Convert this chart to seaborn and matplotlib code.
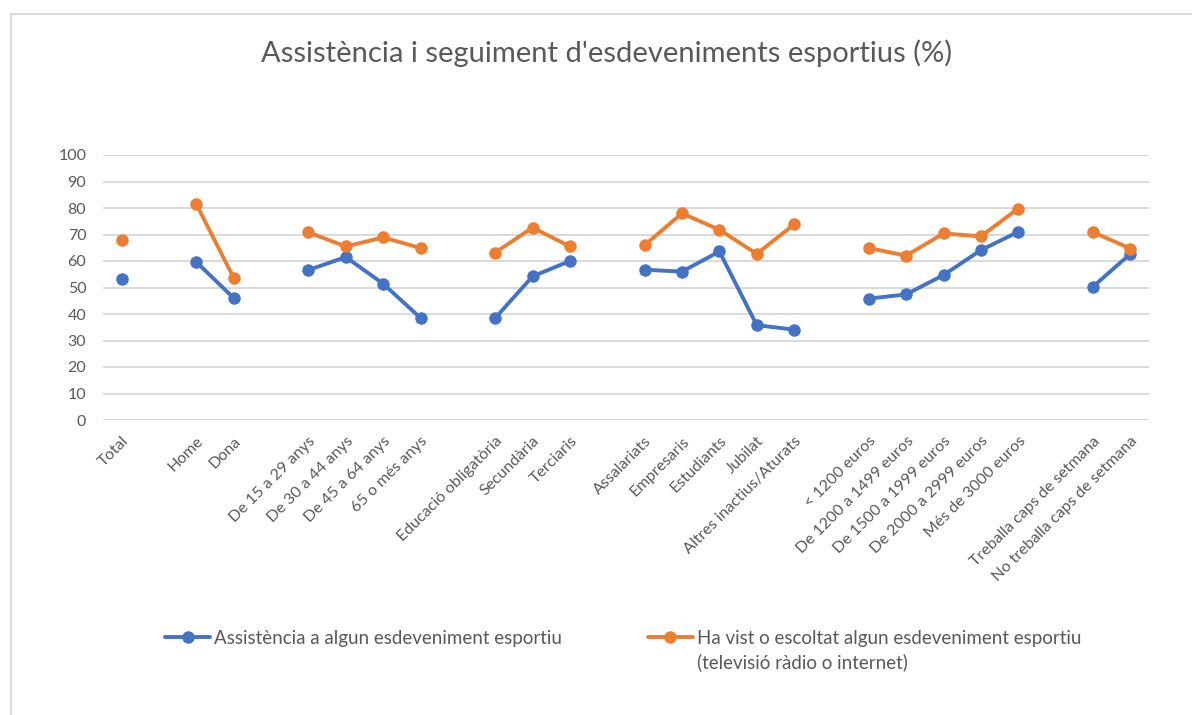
import numpy as np
import pandas as pd
import matplotlib
matplotlib.use("Agg")
import matplotlib.pyplot as plt
import seaborn as sns
from matplotlib.patches import Rectangle

# categories ("" = empty slot between groups)
categories = [
    "Total", "",
    "Home", "Dona", "",
    "De 15 a 29 anys", "De 30 a 44 anys", "De 45 a 64 anys", "65 o més anys", "",
    "Educació obligatòria", "Secundària", "Terciaris", "",
    "Assalariats", "Empresaris", "Estudiants", "Jubilat", "Altres inactius/Aturats", "",
    "< 1200 euros", "De 1200 a 1499 euros", "De 1500 a 1999 euros",
    "De 2000 a 2999 euros", "Més de 3000 euros", "",
    "Treballa caps de setmana", "No treballa caps de setmana",
]

assistencia = [
    53.2, None,
    59.6, 46.0, None,
    56.6, 61.5, 51.4, 38.5, None,
    38.5, 54.2, 60.0, None,
    56.7, 56.0, 63.6, 35.8, 34.1, None,
    45.8, 47.4, 54.7, 64.1, 71.0, None,
    50.3, 62.7,
]

ha_vist = [
    67.8, None,
    81.4, 53.6, None,
    70.8, 65.5, 68.9, 64.9, None,
    63.2, 72.6, 65.5, None,
    66.0, 78.0, 71.8, 62.7, 73.8, None,
    64.9, 62.0, 70.4, 69.3, 79.8, None,
    70.9, 64.7,
]

series_names = [
    "Assistència a algun esdeveniment esportiu",
    "Ha vist o escoltat algun esdeveniment esportiu",
]
series_extra = "(televisió ràdio o internet)"
colors = ["#4472C4", "#ED7D31"]
text_color = "#595959"

# long table, one line segment per group so gaps break the lines
grp_ids = np.cumsum([1 if c == "" else 0 for c in categories])
rows = []
for name, vals in zip(series_names, [assistencia, ha_vist]):
    for i, v in enumerate(vals):
        if v is not None:
            rows.append({"pos": i, "value": v, "series": name, "grp": grp_ids[i]})
df = pd.DataFrame(rows)

sns.set_theme(style="white")
plt.rcParams["font.family"] = ["Lato", "DejaVu Sans"]

W, H = 1192, 715
fig = plt.figure(figsize=(W / 100, H / 100), dpi=100)
ax = fig.add_axes([103 / W, 1 - 420 / H, (1149 - 103) / W, (420 - 155) / H])

sns.lineplot(data=df, x="pos", y="value", hue="series", units="grp",
             estimator=None, palette=colors, marker="o", markersize=9,
             markeredgewidth=0, linewidth=2.8, ax=ax, legend=False)

ax.set_xlim(-0.5, len(categories) - 0.5)
ax.set_ylim(0, 100)
ax.set_yticks(range(0, 101, 10))
ax.set_xticks(range(len(categories)))
ax.set_xticklabels(categories, rotation=45, ha="right", rotation_mode="anchor",
                   color=text_color, fontsize=11.5)
ax.tick_params(axis="y", labelsize=11.5, labelcolor=text_color, length=0, pad=12)
ax.tick_params(axis="x", length=0, pad=10)
ax.yaxis.grid(True, color="#d9d9d9", linewidth=1.4)
ax.set_axisbelow(True)
for s in ax.spines.values():
    s.set_visible(False)
ax.set_xlabel("")
ax.set_ylabel("")

fig.text(607 / W, 1 - 53 / H, "Assistència i seguiment d'esdeveniments esportius (%)",
         ha="center", va="center", fontsize=21, color=text_color)

handles = [plt.Line2D([], [], color=c, marker="o", markersize=9, markeredgewidth=0,
                      linewidth=2.8) for c in colors]
leg = fig.legend(handles, series_names, ncol=2, loc="upper left",
                 bbox_to_anchor=(165 / W, 1 - 630 / H), frameon=False,
                 borderpad=0, borderaxespad=0,
                 fontsize=13.5, labelcolor=text_color, handlelength=2.4,
                 handletextpad=0.2, columnspacing=4.6)

# second line of the orange legend entry, under its label
fig.canvas.draw()
bb = leg.get_texts()[1].get_window_extent()
fig.text(bb.x0 / W, (bb.y0 - 6) / H, series_extra, ha="left", va="top",
         fontsize=13.5, color=text_color)

# chart frame
fig.patches.append(Rectangle((11 / W, -0.1), 2, 1.1 - 14 / H, transform=fig.transFigure,
                             fill=False, edgecolor="#d9d9d9", linewidth=1.5))

fig.savefig("out.png", dpi=100, facecolor="white")
